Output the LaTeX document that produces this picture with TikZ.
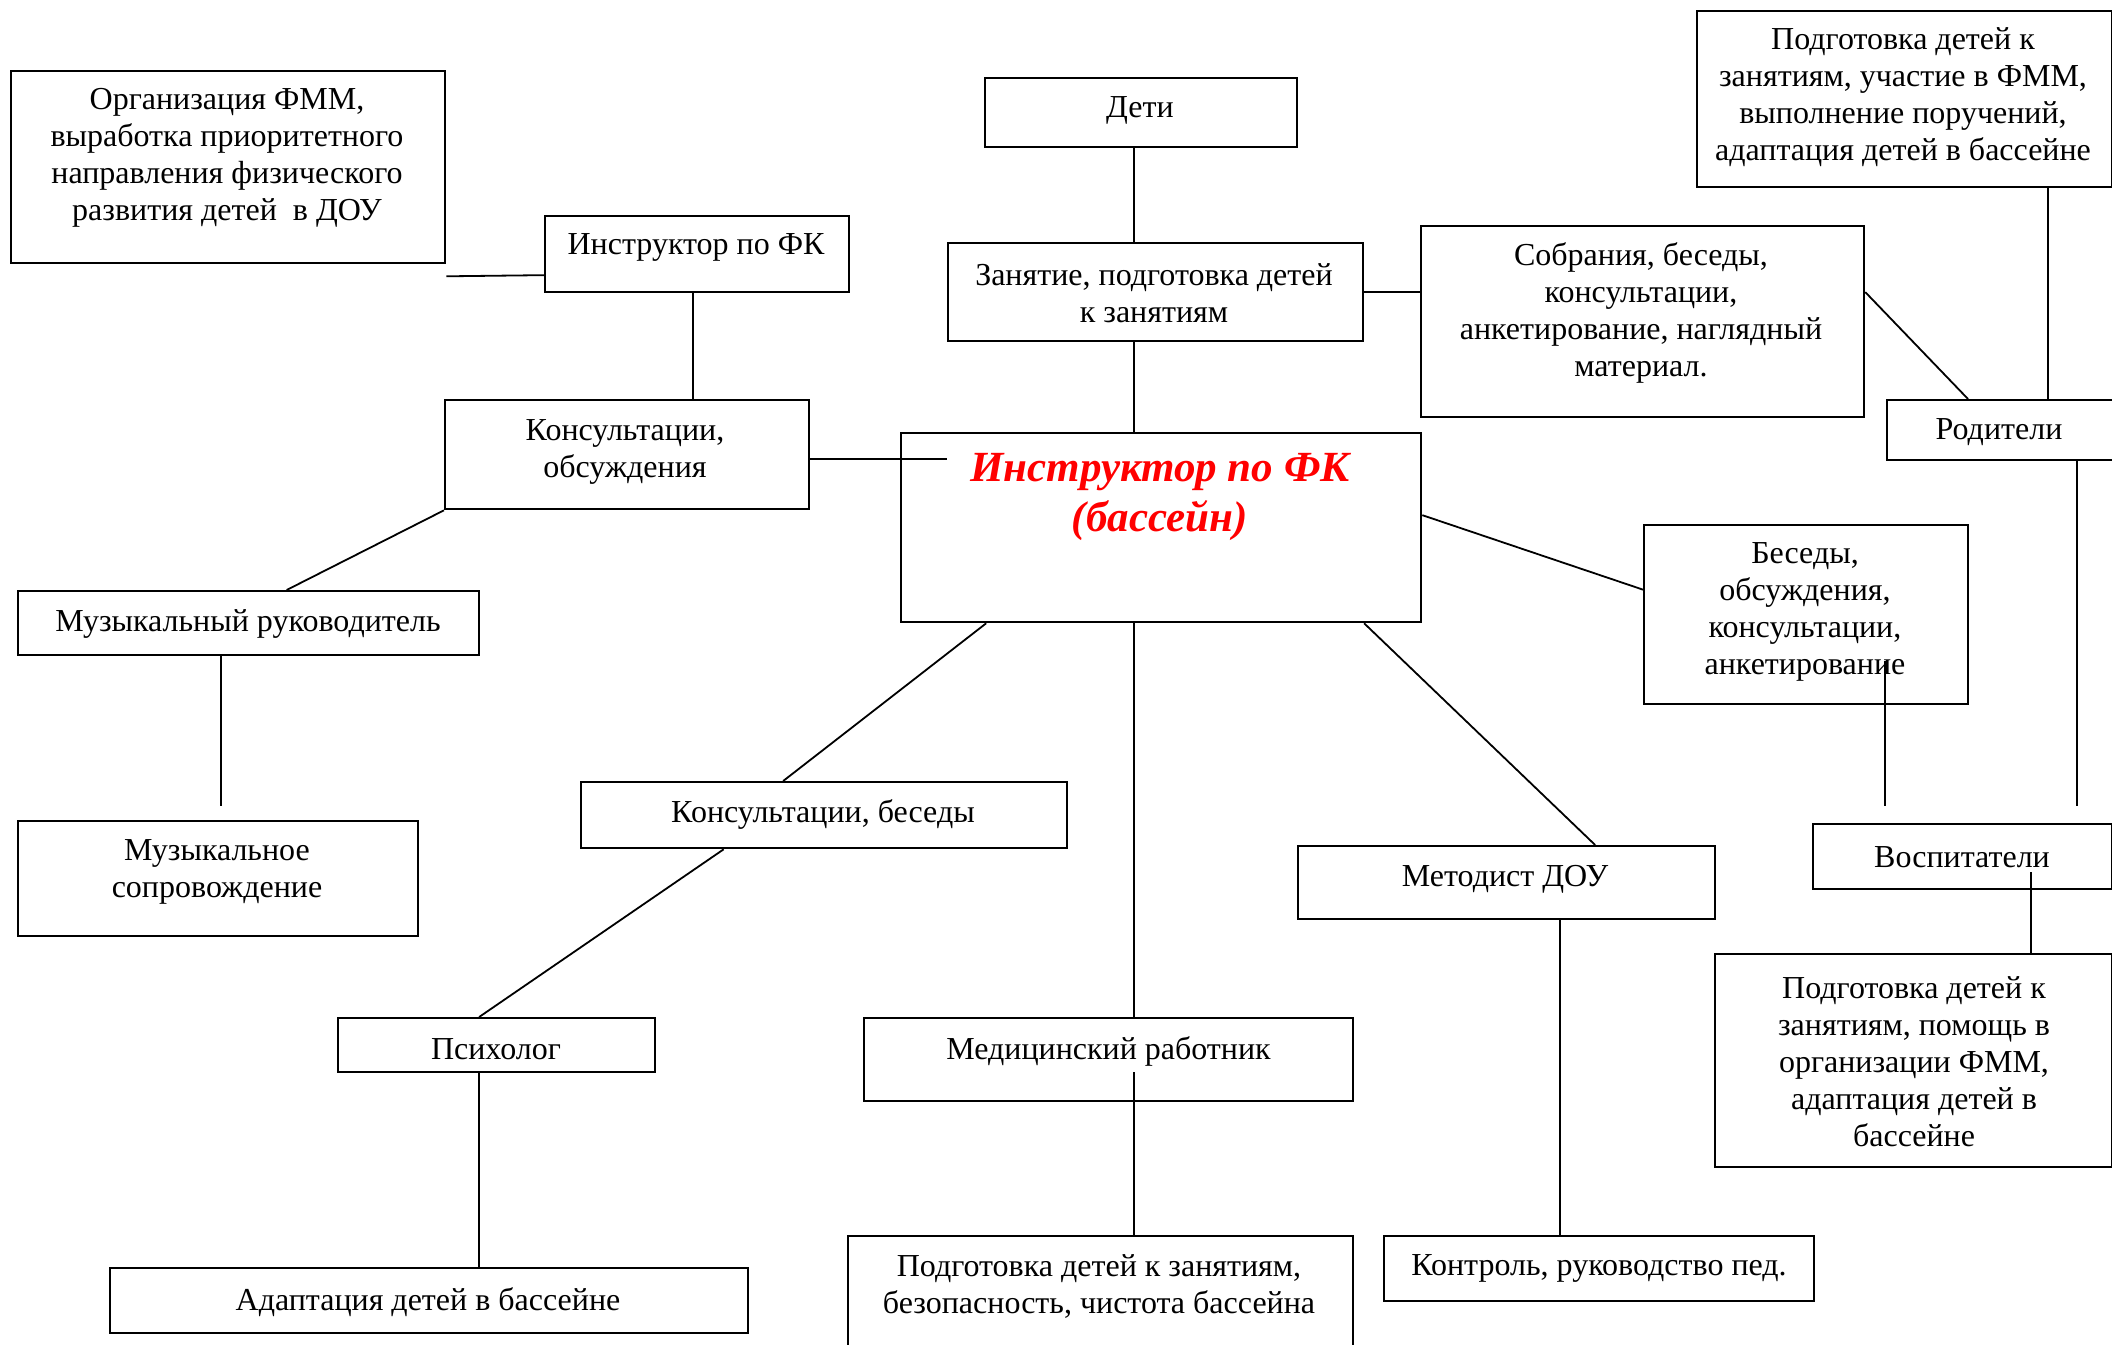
\documentclass[tikz,border=0pt]{standalone}
\usepackage{fontspec}
\setmainfont{Liberation Serif}
\usetikzlibrary{calc}
\tikzset{
  box/.style={draw=black, line width=2.3pt, fill=white, inner sep=0pt, anchor=north west},
  conn/.style={draw=black, line width=1.8pt},
  txt/.style={align=center, inner sep=0pt, yshift=-2.5pt, font=\fontsize{32}{37}\selectfont},
  ctxt/.style={align=center, inner sep=0pt, yshift=-1.5pt, text=red, font=\fontsize{43}{50}\selectfont\bfseries\itshape},
}
\newcommand\bx[5]{\node[box, minimum width={#4pt-#2pt}, minimum height={#5pt-#3pt}] (#1) at (#2,#3) {};}
\newcommand\tx[4]{\node[txt] (#1) at (#2,#3) {#4};}
\begin{document}
\begin{tikzpicture}[x=1pt,y=-1pt]
\fill[white] (0,0) rectangle (2112,1344);
\clip (0,0) rectangle (2112,1344);
% boxes
\bx{org}{10}{70}{444}{262}
\bx{instr}{544}{215}{848}{291}
\bx{konsob}{444}{399}{808}{508}
\bx{muzruk}{17}{590}{478}{654}
\bx{muzsopr}{17}{820}{417}{935}
\bx{deti}{984}{77}{1296}{146}
\bx{zan}{947}{242}{1362}{340}
\bx{central}{900}{432}{1420}{621}
\bx{sobr}{1420}{225}{1863}{416}
\bx{podTR}{1696}{10}{2111}{186}
\bx{rod}{1886}{399}{2125}{459}
\bx{besedy}{1643}{524}{1967}{703}
\bx{konsbes}{580}{781}{1066}{847}
\bx{metod}{1297}{845}{1714}{918}
\bx{vosp}{1812}{823}{2111}{888}
\bx{podvosp}{1714}{953}{2111}{1166}
\bx{psych}{337}{1017}{654}{1071}
\bx{med}{863}{1017}{1352}{1100}
\bx{adapt}{109}{1267}{747}{1332}
\bx{podmed}{847}{1235}{1352}{1360}
\bx{kontrol}{1383}{1235}{1813}{1300}
% connectors
\coordinate (ax) at (1134,0);
\draw[conn] ([yshift=-12pt]org.south east) -- ([yshift=-21pt]instr.west);
\draw[conn] (instr.south) ++(-4,0) coordinate (a2) -- (a2 |- konsob.north);
\draw[conn] (konsob.east) ++(0,4.5) coordinate (a3) -- (a3 -| central.west) -- ++(47,0);
\draw[conn] (konsob.south west) -- ([xshift=38pt]muzruk.north);
\draw[conn] ([xshift=-28pt]muzruk.south) -- ++(0,150);
\draw[conn] (deti.south -| ax) -- (zan.north -| ax);
\draw[conn] (zan.south -| ax) -- (central.north -| ax);
\draw[conn] (central.south -| ax) -- (med.north -| ax);
\draw[conn] (med.north -| ax) ++(0,55) coordinate (a17) -- (a17 |- podmed.north);
\draw[conn] (zan.east) -- (zan.east -| sobr.west);
\draw[conn] ([yshift=29.5pt]sobr.east) -- ([xshift=82pt]rod.north west);
\draw[conn] (podTR.south west) ++(352,0) coordinate (a10) -- (a10 |- rod.north);
\draw[conn] (rod.south west) ++(191,0) -- ++(0,345);
\draw[conn] ([yshift=12.5pt]central.east) -- ([yshift=25pt]besedy.west);
\draw[conn] (besedy.south west) ++(242,-44) -- ++(0,145);
\draw[conn] (vosp.south west) ++(219,-18) coordinate (a14) -- (a14 |- podvosp.north);
\draw[conn] ([xshift=203pt]central.south) -- ([xshift=88.5pt]metod.north);
\draw[conn] (metod.south) ++(53.5,0) coordinate (a16) -- (a16 |- kontrol.north);
\draw[conn] ([xshift=-175pt]central.south) -- ([xshift=-41pt]konsbes.north);
\draw[conn] ([xshift=-100.5pt]konsbes.south) -- ([xshift=-17.5pt]psych.north);
\draw[conn] (psych.south) ++(-17.5,0) coordinate (a20) -- (a20 |- adapt.north);
% texts
\tx{orgT}{227}{155.6}{Организация ФММ,\\ выработка приоритетного\\ направления физического\\ развития детей~ в ДОУ}
\tx{instrT}{696}{245}{Инструктор по ФК}
\tx{konsobT}{625}{449}{Консультации,\\ обсуждения}
\tx{muzrukT}{248}{621}{Музыкальный руководитель}
\tx{muzsoprT}{217}{869}{Музыкальное\\ сопровождение}
\tx{detiT}{1140}{108}{Дети}
\tx{zanT}{1154}{291}{Занятие, подготовка детей\\ к занятиям}
\node[ctxt] (centralT) at (1160,495) {Инструктор по ФК\\ (бассейн)};
\tx{sobrT}{1641}{310.5}{Собрания, беседы,\\ консультации,\\ анкетирование, наглядный\\ материал.}
\tx{podTRT}{1903}{95}{Подготовка детей к\\ занятиям, участие в ФММ,\\ выполнение поручений,\\ адаптация детей в бассейне}
\tx{rodT}{1999}{430}{Родители}
\tx{besedyT}{1805}{609.5}{Беседы,\\ обсуждения,\\ консультации,\\ анкетирование}
\tx{konsbesT}{823}{812}{Консультации, беседы}
\tx{metodT}{1505}{877}{Методист ДОУ}
\tx{vospT}{1962}{855}{Воспитатели}
\tx{podvospT}{1914}{1059}{Подготовка детей к\\ занятиям, помощь в\\ организации ФММ,\\ адаптация детей в\\ бассейне}
\tx{psychT}{496}{1046.6}{Психолог}
\tx{medT}{1108.5}{1049}{Медицинский работник}
\tx{adaptT}{428}{1300}{Адаптация детей в бассейне}
\tx{podmedT}{1099}{1284}{Подготовка детей к занятиям,\\ безопасность, чистота бассейна}
\tx{kontrolT}{1599}{1266}{Контроль, руководство пед.}
\end{tikzpicture}
\end{document}
